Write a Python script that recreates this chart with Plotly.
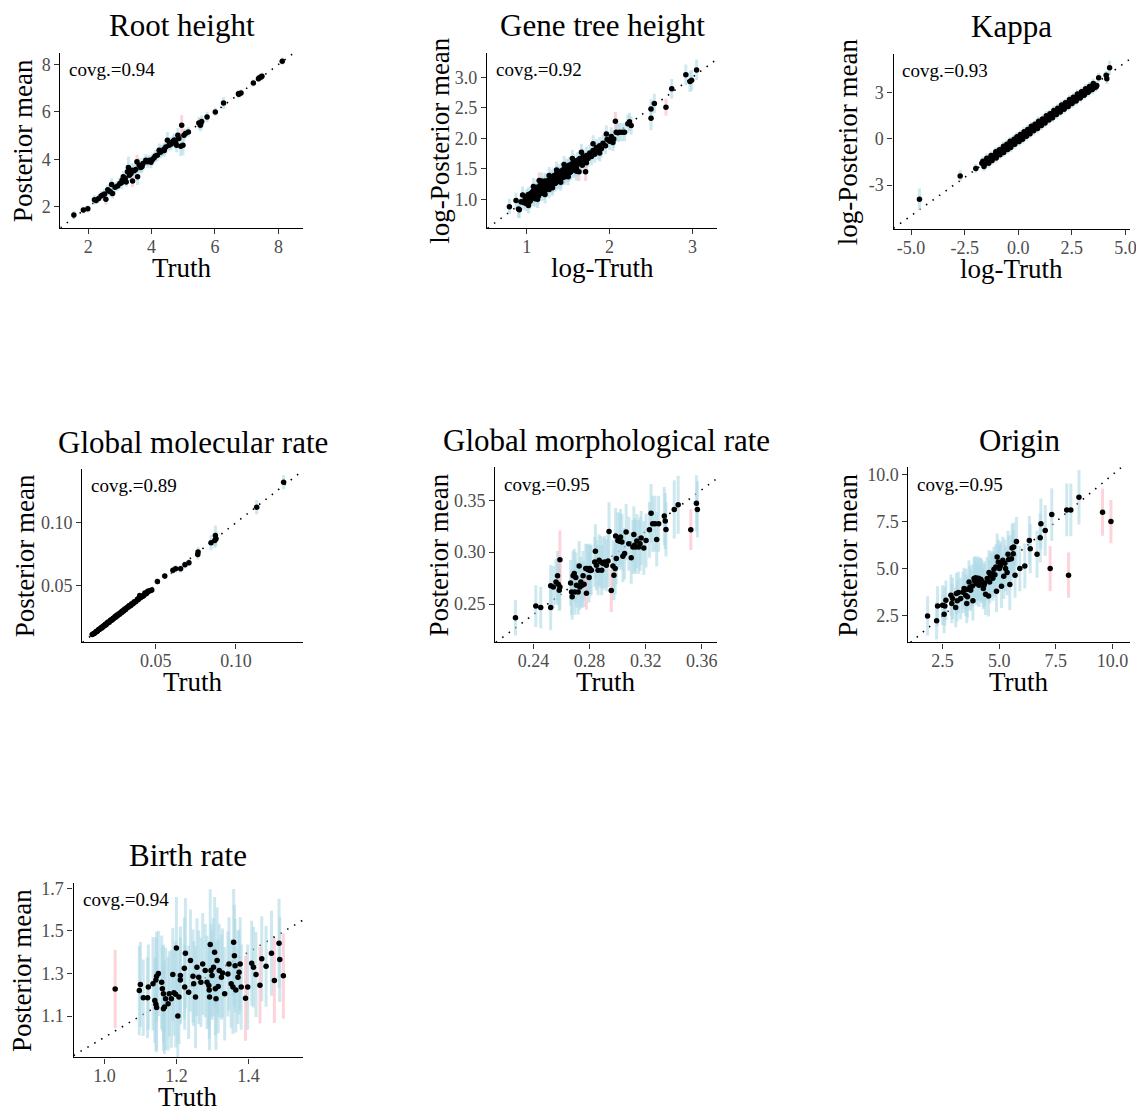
import plotly.graph_objects as go

W, H = 1144, 1109
OFF = 8  # page body margin of the html page
WF, HF = W - OFF, H - OFF
FONT = "Liberation Serif"

# ---------------- Root height ----------------
root_truth = [1.55, 1.85, 1.99, 2.25, 2.33, 2.41, 2.46, 2.56, 2.65, 2.70,
              2.74, 2.77, 2.93, 3.00, 3.07, 3.11, 3.17, 3.24, 3.27, 3.30,
              3.35, 3.40, 3.45, 3.50, 3.54, 3.56, 3.61, 3.66, 3.73, 3.82,
              3.87, 3.94, 4.03, 4.08, 4.18, 4.24, 4.32, 4.39, 4.45, 4.50,
              4.55, 4.60, 4.68, 4.76, 4.79, 4.83, 4.86, 4.92, 4.95, 4.99,
              5.02, 5.07, 5.16, 5.49, 5.54, 5.75, 6.01, 6.27, 6.74, 6.82,
              7.21, 7.37, 7.45, 8.12,
              2.20, 2.52, 2.62, 2.85, 3.05, 3.20, 3.38, 3.70, 3.98, 4.12,
              4.28, 4.40, 4.62, 4.72, 5.55, 5.58, 6.75, 7.40, 7.48]
root_mean = [1.66, 1.87, 1.92, 2.27, 2.36, 2.46, 2.50, 2.32, 2.67, 2.64,
             2.95, 2.57, 2.88, 2.99, 3.13, 3.27, 3.20, 3.48, 3.66, 3.34,
             3.41, 3.09, 3.52, 3.58, 3.90, 3.27, 3.76, 3.66, 3.83, 3.97,
             3.90, 3.97, 4.00, 4.07, 4.18, 4.39, 4.36, 4.43, 4.53, 4.81,
             4.60, 4.70, 4.77, 4.70, 4.60, 5.02, 4.88, 4.56, 5.44, 4.60,
             5.02, 5.09, 5.16, 5.54, 5.44, 5.79, 6.00, 6.38, 6.77, 6.80,
             7.22, 7.40, 7.47, 8.14,
             2.30, 2.55, 2.72, 2.83, 3.02, 3.05, 3.55, 3.70, 3.88, 4.15,
             4.30, 4.38, 4.65, 4.82, 5.50, 5.60, 6.75, 7.44, 7.50]
root_hw = [0.18, 0.15, 0.15, 0.15, 0.18, 0.20, 0.18, 0.22, 0.20, 0.22,
           0.26, 0.22, 0.20, 0.22, 0.25, 0.25, 0.22, 0.30, 0.45, 0.25,
           0.30, 0.25, 0.30, 0.28, 0.30, 0.35, 0.30, 0.25, 0.25, 0.25,
           0.25, 0.22, 0.25, 0.22, 0.25, 0.28, 0.25, 0.25, 0.28, 0.35,
           0.25, 0.25, 0.25, 0.25, 0.30, 0.30, 0.28, 0.42, 0.42, 0.42,
           0.25, 0.20, 0.20, 0.25, 0.25, 0.22, 0.18, 0.25, 0.15, 0.15,
           0.15, 0.15, 0.15, 0.15,
           0.20, 0.22, 0.22, 0.22, 0.25, 0.20, 0.30, 0.25, 0.25, 0.25,
           0.25, 0.25, 0.25, 0.28, 0.25, 0.25, 0.15, 0.15, 0.15]
root_xtickvals = [2, 4, 6, 8]
root_xticktext = ["2", "4", "6", "8"]
root_ytickvals = [2, 4, 6, 8]
root_yticktext = ["2", "4", "6", "8"]

# ---------------- Gene tree height (log) ----------------
gene_truth = [0.79, 0.87, 0.90, 0.91, 0.93, 0.96, 0.98, 0.99, 1.00, 1.01,
              1.02, 1.03, 1.04, 1.05, 1.05, 1.06, 1.07, 1.08, 1.08, 1.09,
              1.10, 1.10, 1.11, 1.12, 1.12, 1.13, 1.14, 1.14, 1.15, 1.15,
              1.16, 1.16, 1.17, 1.18, 1.18, 1.19, 1.20, 1.20, 1.21, 1.22,
              1.22, 1.22, 1.23, 1.24, 1.25, 1.25, 1.26, 1.26, 1.27, 1.28,
              1.28, 1.29, 1.30, 1.30, 1.30, 1.31, 1.32, 1.32, 1.33, 1.34,
              1.34, 1.35, 1.35, 1.36, 1.36, 1.37, 1.38, 1.38, 1.39, 1.40,
              1.40, 1.41, 1.42, 1.42, 1.43, 1.44, 1.44, 1.45, 1.46, 1.46,
              1.47, 1.48, 1.48, 1.49, 1.50, 1.50, 1.51, 1.52, 1.52, 1.53,
              1.54, 1.55, 1.55, 1.56, 1.57, 1.58, 1.58, 1.60, 1.61, 1.62,
              1.63, 1.64, 1.65, 1.67, 1.68, 1.70, 1.71, 1.72, 1.74, 1.76,
              1.78, 1.80, 1.82, 1.84, 1.86, 1.88, 1.90, 1.92, 1.95, 1.97,
              2.00, 2.02, 2.05, 2.07, 2.08, 2.10, 2.12, 2.15, 2.18, 2.22,
              2.24, 2.26, 2.50, 2.50, 2.54, 2.68, 2.75, 2.92, 2.97, 2.99,
              3.05,
              0.95, 1.02, 1.08, 1.13, 1.18, 1.22, 1.27, 1.31, 1.36, 1.41,
              1.45, 1.50, 1.55, 1.60, 1.66, 1.72, 1.80, 1.88, 1.96, 2.04]
gene_mean = [0.88, 0.98, 0.84, 0.83, 0.96, 0.95, 1.00, 0.93, 1.05, 0.98,
             1.08, 1.01, 0.97, 1.10, 1.02, 1.04, 1.12, 1.02, 1.14, 1.07,
             1.15, 1.01, 1.09, 1.20, 1.11, 1.06, 1.13, 1.05, 1.18, 1.31,
             1.23, 1.16, 1.14, 1.10, 1.22, 1.19, 1.25, 1.16, 1.12, 1.22,
             1.14, 1.30, 1.28, 1.18, 1.30, 1.21, 1.25, 1.31, 1.16, 1.33,
             1.24, 1.27, 1.22, 1.36, 1.30, 1.30, 1.25, 1.34, 1.39, 1.32,
             1.26, 1.27, 1.35, 1.42, 1.37, 1.35, 1.30, 1.40, 1.44, 1.38,
             1.31, 1.33, 1.47, 1.40, 1.41, 1.36, 1.46, 1.50, 1.44, 1.37,
             1.39, 1.53, 1.45, 1.47, 1.42, 1.53, 1.56, 1.50, 1.44, 1.45,
             1.58, 1.52, 1.55, 1.48, 1.61, 1.55, 1.50, 1.51, 1.64, 1.58,
             1.45, 1.67, 1.60, 1.56, 1.70, 1.64, 1.45, 1.72, 1.67, 1.76,
             1.70, 1.80, 1.74, 1.85, 1.79, 1.88, 1.83, 1.92, 1.88, 1.98,
             1.95, 2.03, 1.99, 2.28, 2.10, 2.09, 2.10, 2.10, 2.10, 2.24,
             2.27, 2.21, 2.48, 2.33, 2.57, 2.51, 2.81, 3.04, 2.93, 2.95,
             3.12,
             1.07, 0.90, 1.21, 1.00, 1.30, 1.08, 1.39, 1.19, 1.48, 1.28,
             1.57, 1.37, 1.67, 1.46, 1.77, 1.60, 1.91, 1.76, 2.07, 1.93]
gene_hw = [0.13, 0.13, 0.14, 0.14, 0.12, 0.12, 0.12, 0.12, 0.12, 0.12,
           0.12, 0.12, 0.13, 0.12, 0.12, 0.12, 0.12, 0.13, 0.12, 0.12,
           0.12, 0.13, 0.12, 0.13, 0.12, 0.12, 0.12, 0.13, 0.12, 0.13,
           0.13, 0.12, 0.12, 0.13, 0.12, 0.12, 0.12, 0.12, 0.13, 0.12,
           0.12, 0.13, 0.12, 0.12, 0.12, 0.12, 0.12, 0.12, 0.14, 0.12,
           0.12, 0.12, 0.13, 0.13, 0.12, 0.12, 0.12, 0.12, 0.13, 0.12,
           0.13, 0.12, 0.12, 0.13, 0.12, 0.12, 0.13, 0.12, 0.13, 0.12,
           0.13, 0.12, 0.13, 0.12, 0.12, 0.13, 0.12, 0.13, 0.12, 0.13,
           0.12, 0.13, 0.12, 0.12, 0.13, 0.12, 0.13, 0.12, 0.13, 0.13,
           0.13, 0.12, 0.12, 0.13, 0.13, 0.12, 0.13, 0.13, 0.13, 0.13,
           0.15, 0.13, 0.13, 0.14, 0.13, 0.14, 0.15, 0.14, 0.14, 0.14,
           0.14, 0.14, 0.14, 0.14, 0.14, 0.14, 0.14, 0.14, 0.14, 0.14,
           0.14, 0.15, 0.15, 0.15, 0.15, 0.15, 0.15, 0.15, 0.15, 0.15,
           0.15, 0.15, 0.16, 0.20, 0.16, 0.14, 0.16, 0.17, 0.17, 0.17,
           0.17,
           0.14, 0.13, 0.14, 0.14, 0.14, 0.15, 0.14, 0.13, 0.14, 0.14,
           0.14, 0.14, 0.14, 0.15, 0.14, 0.14, 0.14, 0.14, 0.14, 0.14]
gene_xtickvals = [1, 2, 3]
gene_xticktext = ["1", "2", "3"]
gene_ytickvals = [1.0, 1.5, 2.0, 2.5, 3.0]
gene_yticktext = ["1.0", "1.5", "2.0", "2.5", "3.0"]

# ---------------- Kappa (log) ----------------
kappa_truth = [-4.61, -2.71, -1.98, -1.70, -1.63, -1.58, -1.52, -1.45, -1.41, -1.36,
               -1.30, -1.24, -1.19, -1.13, -1.08, -1.01, -0.96, -0.92, -0.86, -0.79,
               -0.75, -0.70, -0.63, -0.57, -0.52, -0.46, -0.41, -0.33, -0.27, -0.22,
               -0.15, -0.10, -0.04, 0.02, 0.07, 0.13, 0.18, 0.25, 0.30, 0.36,
               0.41, 0.47, 0.53, 0.58, 0.64, 0.70, 0.75, 0.82, 0.88, 0.93,
               0.99, 1.05, 1.11, 1.17, 1.22, 1.29, 1.34, 1.40, 1.46, 1.52,
               1.57, 1.63, 1.70, 1.75, 1.81, 1.88, 1.94, 1.99, 2.06, 2.12,
               2.18, 2.23, 2.30, 2.36, 2.42, 2.48, 2.55, 2.61, 2.67, 2.73,
               2.80, 2.86, 2.92, 2.98, 3.04, 3.10, 3.16, 3.23, 3.29, 3.35,
               3.41, 3.47, 3.53, 3.60, 3.66, 3.75, 4.10, 4.13, 4.26,
               -1.55, -1.33, -1.16, -0.99, -0.83, -0.66, -0.49, -0.31, -0.18, -0.01,
               0.16, 0.33, 0.50, 0.67, 0.85, 1.02, 1.19, 1.37, 1.55, 1.72,
               1.90, 2.09, 2.27, 2.45, 2.64, 2.83, 3.01, 3.20, 3.38, 3.56,
               -1.65, -1.47, -1.27, -1.05, -0.88, -0.69, -0.53, -0.38, -0.20, -0.06,
               0.10, 0.27, 0.44, 0.61, 0.78, 0.95, 1.13, 1.31, 1.48, 1.66,
               1.84, 2.02, 2.20, 2.39, 2.57, 2.76, 2.95, 3.14, 3.32, 3.50,
               -1.60, -1.38, -1.22, -1.03, -0.85, -0.68, -0.50, -0.35, -0.16, 0.04,
               0.20, 0.38, 0.55, 0.72, 0.90, 1.08, 1.25, 1.43, 1.60, 1.78,
               1.96, 2.14, 2.33, 2.51, 2.70, 2.89, 3.07, 3.26, 3.45, 3.63]
kappa_mean = [-3.93, -2.41, -1.93, -1.58, -1.52, -1.66, -1.45, -1.50, -1.33, -1.40,
              -1.24, -1.30, -1.11, -1.18, -1.01, -1.06, -0.89, -0.97, -0.80, -0.84,
              -0.69, -0.74, -0.58, -0.61, -0.46, -0.50, -0.36, -0.37, -0.21, -0.26,
              -0.10, -0.14, 0.01, -0.03, 0.12, 0.09, 0.23, 0.20, 0.35, 0.31,
              0.46, 0.42, 0.58, 0.53, 0.69, 0.64, 0.80, 0.77, 0.92, 0.88,
              1.03, 1.00, 1.15, 1.12, 1.26, 1.23, 1.38, 1.35, 1.50, 1.46,
              1.61, 1.57, 1.73, 1.69, 1.84, 1.81, 1.96, 1.92, 2.08, 2.05,
              2.20, 2.15, 2.31, 2.28, 2.42, 2.39, 2.55, 2.50, 2.66, 2.62,
              2.76, 2.72, 2.86, 2.83, 2.96, 2.93, 3.06, 3.10, 3.16, 3.20,
              3.25, 3.30, 3.35, 3.39, 3.48, 4.00, 4.15, 3.93, 4.65,
              -1.49, -1.38, -1.10, -1.04, -0.77, -0.71, -0.43, -0.36, -0.12, -0.06,
              0.22, 0.28, 0.56, 0.62, 0.91, 0.97, 1.25, 1.31, 1.61, 1.66,
              1.96, 2.02, 2.33, 2.38, 2.70, 2.75, 3.07, 3.12, 3.43, 3.46,
              -1.45, -1.25, -1.08, -0.83, -0.70, -0.47, -0.35, -0.15, -0.01, 0.15,
              0.29, 0.48, 0.62, 0.83, 0.96, 1.16, 1.30, 1.52, 1.65, 1.86,
              2.00, 2.22, 2.36, 2.58, 2.72, 2.93, 3.08, 3.28, 3.42, 3.62,
              -1.80, -1.58, -1.40, -1.24, -1.03, -0.88, -0.68, -0.56, -0.34, -0.16,
              -0.01, 0.18, 0.34, 0.53, 0.69, 0.88, 1.04, 1.24, 1.39, 1.59,
              1.76, 1.94, 2.12, 2.31, 2.48, 2.68, 2.85, 3.05, 3.22, 3.40]
kappa_hw = [0.70, 0.35, 0.30, 0.25, 0.24, 0.26, 0.24, 0.25, 0.23, 0.24,
            0.22, 0.24, 0.23, 0.22, 0.24, 0.22, 0.23, 0.22, 0.24, 0.22,
            0.23, 0.22, 0.24, 0.22, 0.23, 0.22, 0.24, 0.22, 0.23, 0.22,
            0.24, 0.22, 0.23, 0.22, 0.24, 0.22, 0.23, 0.22, 0.24, 0.22,
            0.23, 0.22, 0.24, 0.22, 0.23, 0.22, 0.24, 0.22, 0.23, 0.22,
            0.24, 0.22, 0.23, 0.22, 0.24, 0.22, 0.23, 0.22, 0.24, 0.22,
            0.23, 0.22, 0.24, 0.22, 0.23, 0.22, 0.24, 0.22, 0.23, 0.22,
            0.24, 0.22, 0.23, 0.22, 0.24, 0.22, 0.23, 0.22, 0.24, 0.22,
            0.23, 0.24, 0.25, 0.24, 0.25, 0.24, 0.26, 0.25, 0.26, 0.25,
            0.26, 0.27, 0.27, 0.28, 0.30, 0.30, 0.30, 0.35, 0.45,
            0.24, 0.23, 0.22, 0.24, 0.22, 0.23, 0.22, 0.24, 0.22, 0.23,
            0.22, 0.24, 0.22, 0.23, 0.22, 0.24, 0.22, 0.23, 0.22, 0.24,
            0.22, 0.23, 0.22, 0.24, 0.23, 0.24, 0.25, 0.26, 0.27, 0.28,
            0.30, 0.30, 0.28, 0.30, 0.29, 0.30, 0.28, 0.30, 0.29, 0.30,
            0.28, 0.30, 0.29, 0.30, 0.28, 0.30, 0.29, 0.30, 0.28, 0.30,
            0.29, 0.30, 0.28, 0.30, 0.29, 0.30, 0.29, 0.30, 0.30, 0.31,
            0.30, 0.30, 0.28, 0.30, 0.29, 0.30, 0.28, 0.30, 0.29, 0.30,
            0.28, 0.30, 0.29, 0.30, 0.28, 0.30, 0.29, 0.30, 0.28, 0.30,
            0.29, 0.30, 0.28, 0.30, 0.29, 0.30, 0.29, 0.30, 0.30, 0.31]
kappa_xtickvals = [-5.0, -2.5, 0.0, 2.5, 5.0]
kappa_xticktext = ["-5.0", "-2.5", "0.0", "2.5", "5.0"]
kappa_ytickvals = [-3, 0, 3]
kappa_yticktext = ["-3", "0", "3"]

# ---------------- Global molecular rate ----------------
mol_truth = [0.0103, 0.0112, 0.0120, 0.0128, 0.0135, 0.0142, 0.0150, 0.0158, 0.0163, 0.0170,
             0.0178, 0.0185, 0.0190, 0.0197, 0.0203, 0.0210, 0.0216, 0.0222, 0.0228, 0.0234,
             0.0240, 0.0246, 0.0252, 0.0258, 0.0263, 0.0270, 0.0276, 0.0282, 0.0288, 0.0294,
             0.0300, 0.0306, 0.0313, 0.0320, 0.0328, 0.0335, 0.0342, 0.0350, 0.0358, 0.0366,
             0.0375, 0.0385, 0.0395, 0.0400, 0.0405, 0.0415, 0.0425, 0.0432, 0.0440, 0.0450,
             0.0460, 0.0468, 0.0475, 0.0510, 0.0556, 0.0607, 0.0624, 0.0655, 0.0682, 0.0707,
             0.0762, 0.0764, 0.0845, 0.0868, 0.0872, 0.0876, 0.1130, 0.1298,
             0.0115, 0.0132, 0.0147, 0.0166, 0.0182, 0.0200, 0.0219, 0.0237, 0.0255, 0.0273,
             0.0291, 0.0310, 0.0331, 0.0346, 0.0362, 0.0390, 0.0420, 0.0445]
mol_mean = [0.0106, 0.0113, 0.0118, 0.0130, 0.0133, 0.0145, 0.0148, 0.0160, 0.0158, 0.0172,
            0.0175, 0.0188, 0.0184, 0.0200, 0.0206, 0.0205, 0.0219, 0.0225, 0.0222, 0.0236,
            0.0238, 0.0250, 0.0247, 0.0262, 0.0258, 0.0272, 0.0270, 0.0285, 0.0283, 0.0297,
            0.0295, 0.0310, 0.0308, 0.0322, 0.0325, 0.0338, 0.0337, 0.0352, 0.0352, 0.0368,
            0.0368, 0.0388, 0.0398, 0.0418, 0.0400, 0.0410, 0.0418, 0.0438, 0.0432, 0.0452,
            0.0455, 0.0458, 0.0462, 0.0530, 0.0574, 0.0620, 0.0633, 0.0633, 0.0665, 0.0680,
            0.0747, 0.0766, 0.0840, 0.0859, 0.0899, 0.0872, 0.1125, 0.1324,
            0.0117, 0.0131, 0.0149, 0.0165, 0.0183, 0.0198, 0.0221, 0.0235, 0.0257, 0.0271,
            0.0292, 0.0307, 0.0332, 0.0343, 0.0360, 0.0385, 0.0414, 0.0441]
mol_hw = [0.0012, 0.0012, 0.0012, 0.0013, 0.0013, 0.0013, 0.0013, 0.0014, 0.0014, 0.0014,
          0.0014, 0.0015, 0.0015, 0.0015, 0.0015, 0.0015, 0.0015, 0.0015, 0.0015, 0.0016,
          0.0016, 0.0016, 0.0016, 0.0016, 0.0016, 0.0016, 0.0017, 0.0017, 0.0017, 0.0017,
          0.0017, 0.0017, 0.0017, 0.0017, 0.0018, 0.0018, 0.0018, 0.0018, 0.0018, 0.0018,
          0.0019, 0.0019, 0.0019, 0.0015, 0.0019, 0.0019, 0.0020, 0.0020, 0.0020, 0.0020,
          0.0020, 0.0020, 0.0020, 0.0025, 0.0025, 0.0030, 0.0030, 0.0030, 0.0030, 0.0030,
          0.0040, 0.0040, 0.0060, 0.0060, 0.0080, 0.0060, 0.0057, 0.0056,
          0.0012, 0.0013, 0.0014, 0.0014, 0.0015, 0.0015, 0.0016, 0.0016, 0.0016, 0.0017,
          0.0017, 0.0017, 0.0018, 0.0018, 0.0018, 0.0019, 0.0020, 0.0020]
mol_xtickvals = [0.05, 0.10]
mol_xticktext = ["0.05", "0.10"]
mol_ytickvals = [0.05, 0.10]
mol_yticktext = ["0.05", "0.10"]

# ---------------- Global morphological rate ----------------
morph_truth = [0.2272, 0.2417, 0.2452, 0.2523, 0.2523, 0.2542, 0.2561, 0.2572, 0.2577, 0.2584,
               0.2589, 0.2589, 0.2665, 0.2672, 0.2676, 0.2683, 0.2691, 0.2695, 0.2702, 0.2707,
               0.2719, 0.2726, 0.2731, 0.2738, 0.2747, 0.2754, 0.2761, 0.2773, 0.2778, 0.2783,
               0.2790, 0.2797, 0.2802, 0.2806, 0.2813, 0.2837, 0.2842, 0.2849, 0.2861, 0.2868,
               0.2880, 0.2887, 0.2896, 0.2908, 0.2920, 0.2932, 0.2939, 0.2955, 0.2967, 0.2974,
               0.2983, 0.2986, 0.2991, 0.3002, 0.3014, 0.3021, 0.3031, 0.3038, 0.3050, 0.3061,
               0.3080, 0.3097, 0.3109, 0.3116, 0.3121, 0.3128, 0.3137, 0.3151, 0.3160, 0.3168,
               0.3187, 0.3203, 0.3227, 0.3239, 0.3250, 0.3267, 0.3279, 0.3293, 0.3333, 0.3340,
               0.3345, 0.3404, 0.3432, 0.3522, 0.3562, 0.3569]
morph_mean = [0.2369, 0.2481, 0.2468, 0.2468, 0.2676, 0.2666, 0.2714, 0.2772, 0.2692, 0.2634,
              0.2928, 0.2666, 0.2704, 0.2618, 0.2570, 0.2772, 0.2794, 0.2618, 0.2756, 0.2682,
              0.2618, 0.2867, 0.2666, 0.2714, 0.2682, 0.2772, 0.2692, 0.2842, 0.2605, 0.2842,
              0.2832, 0.2756, 0.2842, 0.2823, 0.2826, 0.2906, 0.3008, 0.2874, 0.2826, 0.2922,
              0.2906, 0.2826, 0.2890, 0.2906, 0.2874, 0.2915, 0.3200, 0.2631, 0.2867, 0.2778,
              0.2842, 0.3155, 0.2938, 0.3113, 0.3104, 0.3145, 0.3097, 0.2960, 0.2986, 0.3193,
              0.3081, 0.2947, 0.3050, 0.3171, 0.3066, 0.3050, 0.3107, 0.3050, 0.3081, 0.3136,
              0.3040, 0.3113, 0.3216, 0.3375, 0.3273, 0.3273, 0.3123, 0.3273, 0.3347, 0.3299,
              0.3219, 0.3411, 0.3455, 0.3216, 0.3471, 0.3411]
morph_hw = [0.017, 0.020, 0.020, 0.022, 0.020, 0.020, 0.022, 0.024, 0.020, 0.020,
            0.028, 0.022, 0.022, 0.022, 0.022, 0.024, 0.024, 0.022, 0.024, 0.022,
            0.022, 0.024, 0.022, 0.024, 0.022, 0.024, 0.022, 0.024, 0.016, 0.024,
            0.024, 0.024, 0.024, 0.024, 0.024, 0.024, 0.026, 0.024, 0.024, 0.025,
            0.025, 0.024, 0.025, 0.025, 0.025, 0.025, 0.028, 0.021, 0.025, 0.024,
            0.025, 0.027, 0.025, 0.027, 0.027, 0.027, 0.027, 0.025, 0.025, 0.027,
            0.026, 0.025, 0.026, 0.027, 0.026, 0.026, 0.026, 0.026, 0.026, 0.026,
            0.026, 0.026, 0.027, 0.028, 0.027, 0.027, 0.026, 0.027, 0.028, 0.027,
            0.026, 0.028, 0.028, 0.0195, 0.027, 0.027]
morph_xtickvals = [0.24, 0.28, 0.32, 0.36]
morph_xticktext = ["0.24", "0.28", "0.32", "0.36"]
morph_ytickvals = [0.25, 0.30, 0.35]
morph_yticktext = ["0.25", "0.30", "0.35"]

# ---------------- Origin ----------------
origin_truth = [1.84, 2.24, 2.28, 2.50, 2.57, 2.60, 2.65, 2.87, 2.91, 2.94,
                3.08, 3.11, 3.20, 3.30, 3.45, 3.52, 3.57, 3.60, 3.67, 3.74,
                3.82, 3.84, 3.89, 3.96, 4.00, 4.06, 4.11, 4.18, 4.24, 4.30,
                4.33, 4.40, 4.47, 4.53, 4.58, 4.62, 4.69, 4.77, 4.81, 4.88,
                4.91, 4.96, 5.01, 5.06, 5.10, 5.16, 5.20, 5.28, 5.39, 5.42,
                5.47, 5.54, 5.57, 5.64, 5.70, 5.76, 5.91, 6.13, 6.33, 6.37,
                6.67, 6.81, 6.84, 7.03, 7.25, 7.32, 7.98, 8.06, 8.16, 8.52,
                9.56, 9.93,
                3.15, 3.40, 3.55, 3.70, 3.92, 4.08, 4.20, 4.36, 4.55, 4.72,
                4.85, 5.05, 5.25, 5.35, 5.62]
origin_mean = [2.49, 2.24, 3.02, 3.07, 2.58, 3.02, 3.33, 3.60, 3.16, 3.42,
               2.95, 3.69, 3.74, 3.42, 3.95, 3.60, 3.16, 3.51, 4.30, 3.86,
               4.09, 3.30, 4.48, 4.53, 4.21, 4.42, 4.12, 4.44, 4.30, 3.95,
               4.12, 3.65, 4.48, 3.56, 4.30, 4.66, 4.74, 4.97, 4.69, 3.81,
               5.63, 5.36, 5.01, 5.27, 4.07, 5.45, 4.60, 5.01, 5.77, 5.50,
               4.16, 5.54, 6.10, 6.16, 4.66, 6.45, 5.01, 5.15, 6.51, 6.07,
               5.77, 6.65, 7.39, 7.04, 5.01, 7.88, 8.13, 4.66, 8.13, 8.80,
               8.01, 7.51,
               3.30, 3.75, 3.90, 4.00, 4.35, 4.50, 4.40, 4.25, 4.80, 4.50,
               5.10, 5.15, 5.30, 4.80, 5.80]
origin_hw = [1.05, 1.00, 1.05, 1.05, 1.00, 1.05, 1.05, 1.10, 1.05, 1.10,
             1.05, 1.10, 1.10, 1.10, 1.10, 1.10, 1.05, 1.10, 1.15, 1.10,
             1.15, 1.05, 1.15, 1.15, 1.15, 1.15, 1.15, 1.15, 1.15, 1.10,
             1.15, 1.10, 1.15, 1.10, 1.15, 1.20, 1.20, 1.20, 1.20, 1.10,
             1.25, 1.20, 1.20, 1.20, 1.15, 1.25, 1.20, 1.20, 1.25, 1.25,
             1.35, 1.25, 1.30, 1.30, 1.20, 1.30, 1.20, 1.20, 1.30, 1.30,
             1.25, 1.30, 1.35, 1.35, 1.20, 1.40, 1.40, 1.20, 1.40, 1.45,
             1.25, 1.15,
             1.10, 1.10, 1.10, 1.15, 1.15, 1.15, 1.15, 1.15, 1.20, 1.20,
             1.20, 1.20, 1.25, 1.20, 1.25]
origin_xtickvals = [2.5, 5.0, 7.5, 10.0]
origin_xticktext = ["2.5", "5.0", "7.5", "10.0"]
origin_ytickvals = [2.5, 5.0, 7.5, 10.0]
origin_yticktext = ["2.5", "5.0", "7.5", "10.0"]

# ---------------- Birth rate ----------------
birth_truth = [1.030, 1.097, 1.100, 1.108, 1.120, 1.122, 1.135, 1.143, 1.145, 1.150,
               1.140, 1.143, 1.145, 1.159, 1.161, 1.164, 1.164, 1.167, 1.170, 1.177,
               1.180, 1.186, 1.190, 1.193, 1.198, 1.200, 1.204, 1.207, 1.211, 1.211,
               1.222, 1.223, 1.225, 1.234, 1.239, 1.246, 1.248, 1.253, 1.257, 1.262,
               1.268, 1.273, 1.280, 1.285, 1.290, 1.291, 1.292, 1.294, 1.296, 1.299,
               1.303, 1.306, 1.308, 1.310, 1.313, 1.316, 1.319, 1.325, 1.328, 1.334,
               1.343, 1.346, 1.352, 1.357, 1.359, 1.361, 1.363, 1.365, 1.371, 1.374,
               1.377, 1.380, 1.392, 1.398, 1.409, 1.414, 1.421, 1.432, 1.437, 1.449,
               1.464, 1.472, 1.485, 1.487, 1.497]
birth_mean = [1.227, 1.220, 1.248, 1.186, 1.186, 1.236, 1.252, 1.270, 1.287, 1.300,
              1.173, 1.155, 1.140, 1.259, 1.228, 1.205, 1.134, 1.142, 1.181, 1.158,
              1.205, 1.181, 1.295, 1.209, 1.202, 1.420, 1.100, 1.189, 1.291, 1.270,
              1.325, 1.236, 1.395, 1.212, 1.361, 1.287, 1.252, 1.189, 1.330, 1.283,
              1.259, 1.345, 1.314, 1.259, 1.244, 1.223, 1.189, 1.436, 1.314, 1.291,
              1.330, 1.400, 1.228, 1.181, 1.361, 1.239, 1.314, 1.283, 1.302, 1.205,
              1.298, 1.345, 1.252, 1.236, 1.447, 1.384, 1.337, 1.223, 1.283, 1.306,
              1.345, 1.236, 1.184, 1.236, 1.348, 1.330, 1.295, 1.245, 1.369, 1.334,
              1.395, 1.267, 1.442, 1.366, 1.289]
birth_hw = [0.185, 0.21, 0.20, 0.18, 0.19, 0.20, 0.22, 0.20, 0.21, 0.20,
            0.20, 0.22, 0.21, 0.22, 0.20, 0.23, 0.20, 0.22, 0.24, 0.22,
            0.20, 0.23, 0.22, 0.20, 0.25, 0.24, 0.20, 0.22, 0.23, 0.20,
            0.24, 0.20, 0.26, 0.22, 0.24, 0.22, 0.20, 0.24, 0.23, 0.22,
            0.21, 0.24, 0.22, 0.22, 0.20, 0.23, 0.25, 0.26, 0.22, 0.21,
            0.23, 0.26, 0.22, 0.24, 0.25, 0.22, 0.22, 0.20, 0.21, 0.22,
            0.20, 0.22, 0.21, 0.22, 0.25, 0.24, 0.22, 0.20, 0.22, 0.20,
            0.22, 0.20, 0.20, 0.20, 0.20, 0.19, 0.20, 0.18, 0.20, 0.19,
            0.20, 0.20, 0.21, 0.20, 0.20]
birth_xtickvals = [1.0, 1.2, 1.4]
birth_xticktext = ["1.0", "1.2", "1.4"]
birth_ytickvals = [1.1, 1.3, 1.5, 1.7]
birth_yticktext = ["1.1", "1.3", "1.5", "1.7"]

covg_labels = ["covg.=0.94", "covg.=0.92", "covg.=0.93", "covg.=0.89",
               "covg.=0.95", "covg.=0.95", "covg.=0.94"]

panels = [
    dict(title="Root height", xlab="Truth", ylab="Posterior mean",
         t=root_truth, m=root_mean, hw=root_hw,
         xr=[1.125, 8.78], yr=[1.105, 8.49],
         xtv=root_xtickvals, xtt=root_xticktext, ytv=root_ytickvals, ytt=root_yticktext,
         box=(60.7, 305, 49, 225), ydx=38),
    dict(title="Gene tree height", xlab="log-Truth", ylab="log-Posterior mean",
         t=gene_truth, m=gene_mean, hw=gene_hw,
         xr=[0.52, 3.30], yr=[0.527, 3.40],
         xtv=gene_xtickvals, xtt=gene_xticktext, ytv=gene_ytickvals, ytt=gene_yticktext,
         box=(490, 721.7, 49, 225), ydx=48),
    dict(title="Kappa", xlab="log-Truth", ylab="log-Posterior mean",
         t=kappa_truth, m=kappa_mean, hw=kappa_hw,
         xr=[-5.82, 5.20], yr=[-5.88, 5.55],
         xtv=kappa_xtickvals, xtt=kappa_xticktext, ytv=kappa_ytickvals, ytt=kappa_yticktext,
         box=(899, 1136.7, 50, 226), ydx=46),
    dict(title="Global molecular rate", xlab="Truth", ylab="Posterior mean",
         t=mol_truth, m=mol_mean, hw=mol_hw,
         xr=[0.0041, 0.142], yr=[0.0043, 0.143],
         xtv=mol_xtickvals, xtt=mol_xticktext, ytv=mol_ytickvals, ytt=mol_yticktext,
         box=(82.7, 305, 466.7, 640.7), ydx=58),
    dict(title="Global morphological rate", xlab="Truth", ylab="Posterior mean",
         t=morph_truth, m=morph_mean, hw=morph_hw,
         xr=[0.2128, 0.3711], yr=[0.2132, 0.3816],
         xtv=morph_xtickvals, xtt=morph_xticktext, ytv=morph_ytickvals, ytt=morph_yticktext,
         box=(498.3, 721.7, 465, 640.7), ydx=57),
    dict(title="Origin", xlab="Truth", ylab="Posterior mean",
         t=origin_truth, m=origin_mean, hw=origin_hw,
         xr=[0.995, 10.76], yr=[1.09, 10.39],
         xtv=origin_xtickvals, xtt=origin_xticktext, ytv=origin_ytickvals, ytt=origin_yticktext,
         box=(914, 1136.7, 465, 640.7), ydx=61),
    dict(title="Birth rate", xlab="Truth", ylab="Posterior mean",
         t=birth_truth, m=birth_mean, hw=birth_hw,
         xr=[0.9145, 1.552], yr=[0.905, 1.728],
         xtv=birth_xtickvals, xtt=birth_xticktext, ytv=birth_ytickvals, ytt=birth_yticktext,
         box=(74, 305, 881.7, 1057.3), ydx=52),
]

BLUE = "rgba(173,216,230,0.6)"
PINK = "rgba(255,182,193,0.6)"

fig = go.Figure()
annotations = []
layout_axes = {}


def px(xp):
    return (xp - OFF) / WF


def py(yp):
    return 1 - (yp - OFF) / HF


for i, p in enumerate(panels, start=1):
    xref = "x" if i == 1 else f"x{i}"
    yref = "y" if i == 1 else f"y{i}"
    xkey = "xaxis" if i == 1 else f"xaxis{i}"
    ykey = "yaxis" if i == 1 else f"yaxis{i}"
    L, R, T, B = p["box"]
    common = dict(showgrid=False, zeroline=False, showline=True, linecolor="black",
                  linewidth=1.3, ticks="outside", ticklen=5, tickwidth=1.1,
                  tickcolor="#333333", mirror=False,
                  tickfont=dict(family=FONT, size=18, color="#4d4d4d"))
    layout_axes[xkey] = dict(common, domain=[px(L), px(R)], range=p["xr"], anchor=yref,
                             tickmode="array", tickvals=p["xtv"], ticktext=p["xtt"],
                             ticklabelstandoff=-3)
    layout_axes[ykey] = dict(common, domain=[py(B), py(T)], range=p["yr"], anchor=xref,
                             tickmode="array", tickvals=p["ytv"], ticktext=p["ytt"])

    # y = x reference line across the panel
    lo = max(p["xr"][0], p["yr"][0])
    hi = min(p["xr"][1], p["yr"][1])
    fig.add_trace(go.Scatter(x=[lo, hi], y=[lo, hi], mode="lines", xaxis=xref, yaxis=yref,
                             line=dict(color="black", width=1.6, dash="1.5px,6.5px"),
                             hoverinfo="skip", showlegend=False))

    cov_idx = [k for k in range(len(p["t"]))
               if p["m"][k] - p["hw"][k] <= p["t"][k] <= p["m"][k] + p["hw"][k]]
    miss_idx = [k for k in range(len(p["t"])) if k not in cov_idx]
    for idx, col in ((cov_idx, BLUE), (miss_idx, PINK)):
        if not idx:
            continue
        fig.add_trace(go.Scatter(
            x=[p["t"][k] for k in idx], y=[p["m"][k] for k in idx],
            mode="markers", xaxis=xref, yaxis=yref,
            marker=dict(size=2, color="rgba(0,0,0,0)"),
            error_y=dict(type="data", symmetric=True,
                         array=[p["hw"][k] for k in idx],
                         color=col, thickness=3, width=0),
            hoverinfo="skip", showlegend=False))

    fig.add_trace(go.Scatter(x=p["t"], y=p["m"], mode="markers", xaxis=xref, yaxis=yref,
                             marker=dict(size=5.5, color="black", line=dict(width=0)),
                             showlegend=False))

    cx = (L + R) / 2
    annotations.append(dict(text=p["title"], x=px(cx), y=py(T - 27), xref="paper", yref="paper",
                            showarrow=False, xanchor="center", yanchor="middle",
                            font=dict(family=FONT, size=31, color="black")))
    annotations.append(dict(text=p["xlab"], x=px(cx), y=py(B + 40), xref="paper", yref="paper",
                            showarrow=False, xanchor="center", yanchor="middle",
                            font=dict(family=FONT, size=27, color="black")))
    annotations.append(dict(text=p["ylab"], x=px(L - p["ydx"]), y=py((T + B) / 2),
                            xref="paper", yref="paper", textangle=-90,
                            showarrow=False, xanchor="center", yanchor="middle",
                            font=dict(family=FONT, size=27, color="black")))
    annotations.append(dict(text=covg_labels[i - 1], x=px(L + 7), y=py(T + 17),
                            xref="paper", yref="paper",
                            showarrow=False, xanchor="left", yanchor="middle",
                            font=dict(family=FONT, size=19, color="black")))

fig.update_layout(width=WF, height=HF, margin=dict(l=0, r=0, t=0, b=0),
                  paper_bgcolor="white", plot_bgcolor="white",
                  showlegend=False, annotations=annotations, **layout_axes)

fig.write_html("out.html")
